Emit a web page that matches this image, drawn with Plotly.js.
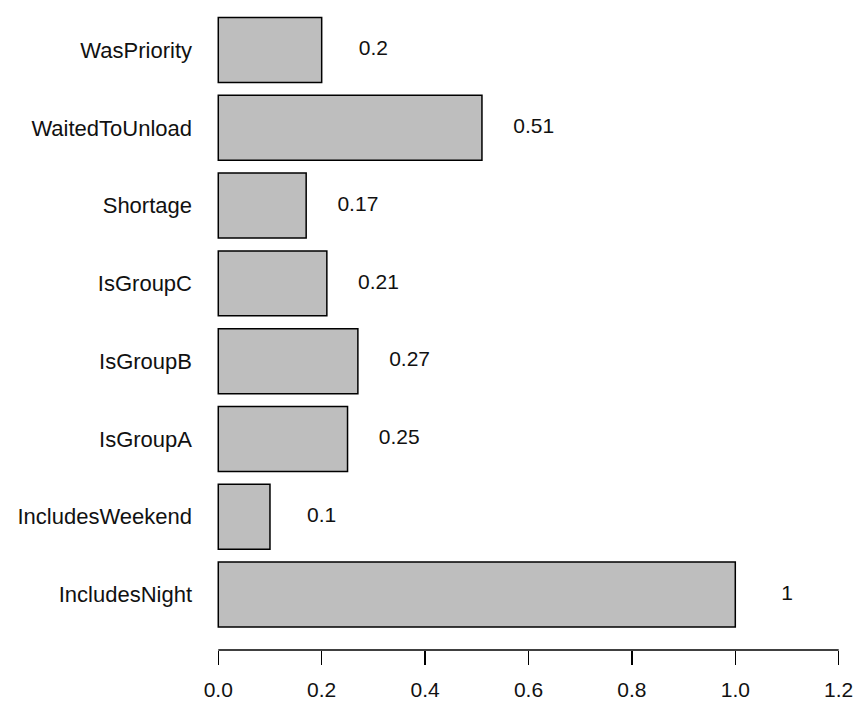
<!DOCTYPE html>
<html>
<head>
<meta charset="utf-8">
<script src="https://cdn.plot.ly/plotly-3.0.1.min.js"></script>
<style>
  html, body { margin: 0; padding: 0; background: #fff; }
  #chart { width: 857px; height: 704px; }
</style>
</head>
<body>
<div id="chart"></div>
<script>
// Predictor importance, listed bottom-to-top
const features = ["IncludesNight", "IncludesWeekend", "IsGroupA", "IsGroupB",
                  "IsGroupC", "Shortage", "WaitedToUnload", "WasPriority"];
const importance = [1, 0.1, 0.25, 0.27, 0.21, 0.17, 0.51, 0.2];
const xTicks = [0, 0.2, 0.4, 0.6, 0.8, 1.0, 1.2];

// value labels sit a fixed distance to the right of each bar end
const labelOffset = 0.1;

const FONT = "Liberation Sans, Arial, sans-serif";

const bars = {
  type: "bar",
  orientation: "h",
  x: importance,
  y: features,
  marker: { color: "#bebebe", line: { color: "#000", width: 1.5 } },
  hoverinfo: "skip"
};

const labels = {
  type: "scatter",
  mode: "text",
  x: importance.map(v => v + labelOffset),
  y: features,
  text: importance.map(v => String(v)),
  textposition: "middle center",
  textfont: { family: FONT, size: 21, color: "#111" },
  cliponaxis: false,
  hoverinfo: "skip",
  showlegend: false
};

const layout = {
  width: 857,
  height: 704,
  margin: { l: 193, r: 0, t: 0, b: 54, pad: 0 },
  paper_bgcolor: "#fff",
  plot_bgcolor: "#fff",
  showlegend: false,
  bargap: 0.165,
  font: { family: FONT, size: 21, color: "#111" },
  xaxis: {
    range: [-0.0489, 1.2354],
    tickvals: xTicks,
    tickformat: ".1f",
    ticks: "outside",
    ticklen: 14,
    tickwidth: 1.3,
    tickcolor: "#000",
    showline: false,
    showgrid: false,
    zeroline: false,
    automargin: false,
    ticklabelstandoff: 7,
    tickfont: { family: FONT, size: 21, color: "#111" }
  },
  yaxis: {
    type: "category",
    categoryorder: "array",
    categoryarray: features,
    range: [-0.713, 7.643],
    ticks: "",
    showline: false,
    showgrid: false,
    zeroline: false,
    automargin: false,
    tickfont: { family: FONT, size: 22, color: "#111" }
  },
  shapes: [{
    type: "line",
    xref: "x", yref: "paper",
    x0: xTicks[0], x1: xTicks[xTicks.length - 1],
    y0: 0, y1: 0,
    line: { color: "#000", width: 1.5 }
  }]
};

Plotly.newPlot("chart", [bars, labels], layout, { staticPlot: true, displayModeBar: false });
</script>
</body>
</html>
